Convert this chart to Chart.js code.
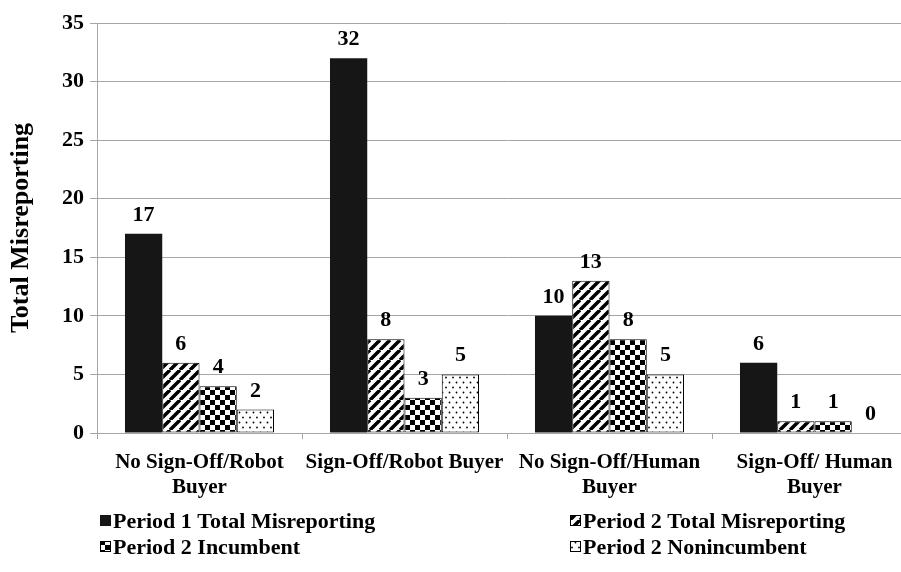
<!DOCTYPE html>
<html><head><meta charset="utf-8">
<script src="https://cdn.jsdelivr.net/npm/chart.js@4"></script>
<style>html,body{margin:0;padding:0;background:#fff;overflow:hidden}#wrap{width:901px;height:572px;overflow:hidden;position:relative}canvas{display:block}</style>
</head><body><div id="wrap"><canvas id="c" width="920" height="572" style="width:920px;height:572px"></canvas></div>
<script>
const categories = [['No Sign-Off/Robot','Buyer'],['Sign-Off/Robot Buyer'],['No Sign-Off/Human','Buyer'],['Sign-Off/ Human','Buyer']];
const seriesNames = ['Period 1 Total Misreporting','Period 2 Total Misreporting','Period 2 Incumbent','Period 2 Nonincumbent'];
const period1Total = [17,32,10,6];
const period2Total = [6,8,13,1];
const period2Incumbent = [4,3,8,1];
const period2Nonincumbent = [2,5,5,0];
const yTicks = [0,5,10,15,20,25,30,35];

const FONT = "'Liberation Serif','Times New Roman',serif";
const GRAY = '#a6a6a6';

function tile(w,h,draw){const c=document.createElement('canvas');c.width=w;c.height=h;const x=c.getContext('2d');x.fillStyle='#fff';x.fillRect(0,0,w,h);draw(x);return x.createPattern(c,'repeat');}
const stripePat = tile(10,10,x=>{x.strokeStyle='#000';x.lineWidth=3.5;x.beginPath();for(let k=-1;k<=1;k++){x.moveTo(k*10,10);x.lineTo(k*10+10,0);}x.stroke();});
const checkPat = tile(10,10,x=>{x.fillStyle='#000';x.fillRect(0,0,5,5);x.fillRect(5,5,5,5);});
const dotPat = tile(7,10,x=>{x.fillStyle='#000';x.beginPath();x.arc(1.5,2.5,0.9,0,Math.PI*2);x.arc(5,7.5,0.9,0,Math.PI*2);x.fill();});

const fills = ['#161616', stripePat, checkPat, dotPat];
const seriesData = [period1Total, period2Total, period2Incumbent, period2Nonincumbent];

const valueLabels = {
  id:'valueLabels',
  afterDatasetsDraw(chart){
    const ctx=chart.ctx; ctx.save();
    ctx.font='bold 22px '+FONT; ctx.fillStyle='#000'; ctx.textAlign='center'; ctx.textBaseline='alphabetic';
    chart.data.datasets.forEach((ds,i)=>{
      chart.getDatasetMeta(i).data.forEach((el,j)=>{ ctx.fillText(String(ds.data[j]), el.x, el.y-13); });
    });
    ctx.restore();
  }
};

const customLegend = {
  id:'customLegend',
  afterDraw(chart){
    const ctx=chart.ctx; ctx.save();
    ctx.font='bold 22px '+FONT; ctx.textBaseline='middle'; ctx.textAlign='left';
    const colX=[100,570], rowY=[521,547];
    chart.data.datasets.forEach((ds,i)=>{
      const cx=colX[i%2], cy=rowY[Math.floor(i/2)];
      ctx.fillStyle=ds.backgroundColor; ctx.fillRect(cx,cy-6,11,11);
      if(i>0){ctx.strokeStyle='#000';ctx.lineWidth=1;ctx.strokeRect(cx+0.5,cy-5.5,10,10);}
      ctx.fillStyle='#000'; ctx.fillText(ds.label, cx+13, cy+1);
    });
    ctx.restore();
  }
};

new Chart(document.getElementById('c'),{
  type:'bar',
  data:{
    labels:categories,
    datasets: seriesNames.map((n,i)=>({label:n,data:seriesData[i],backgroundColor:fills[i],borderColor:i===0?'#161616':'#000',borderWidth:i===0?0:1,borderSkipped:false,categoryPercentage:0.727,barPercentage:1}))
  },
  options:{
    responsive:false, animation:false, devicePixelRatio:1,
    layout:{padding:{left:0,right:3,top:23,bottom:0}},
    plugins:{legend:{display:false},tooltip:{enabled:false}},
    scales:{
      x:{
        afterFit(s){s.height=139;},
        grid:{display:true,drawOnChartArea:false,drawTicks:true,tickLength:6,color:GRAY,offset:true},
        border:{display:true,color:GRAY},
        ticks:{color:'#000',font:{family:FONT,size:21,weight:'bold',lineHeight:'25px'},padding:11,maxRotation:0,autoSkip:false}
      },
      y:{
        min:0,max:35,
        afterFit(s){s.width=97;},
        afterBuildTicks(s){s.ticks=yTicks.map(v=>({value:v}));},
        grid:{color:GRAY,tickLength:7,drawTicks:true},
        border:{display:true,color:GRAY},
        ticks:{color:'#000',font:{family:FONT,size:22,weight:'bold'},padding:6},
        title:{display:true,text:'Total Misreporting',color:'#000',font:{family:FONT,size:26,weight:'bold'},padding:{top:6,bottom:0}}
      }
    }
  },
  plugins:[valueLabels,customLegend]
});
</script></body></html>
